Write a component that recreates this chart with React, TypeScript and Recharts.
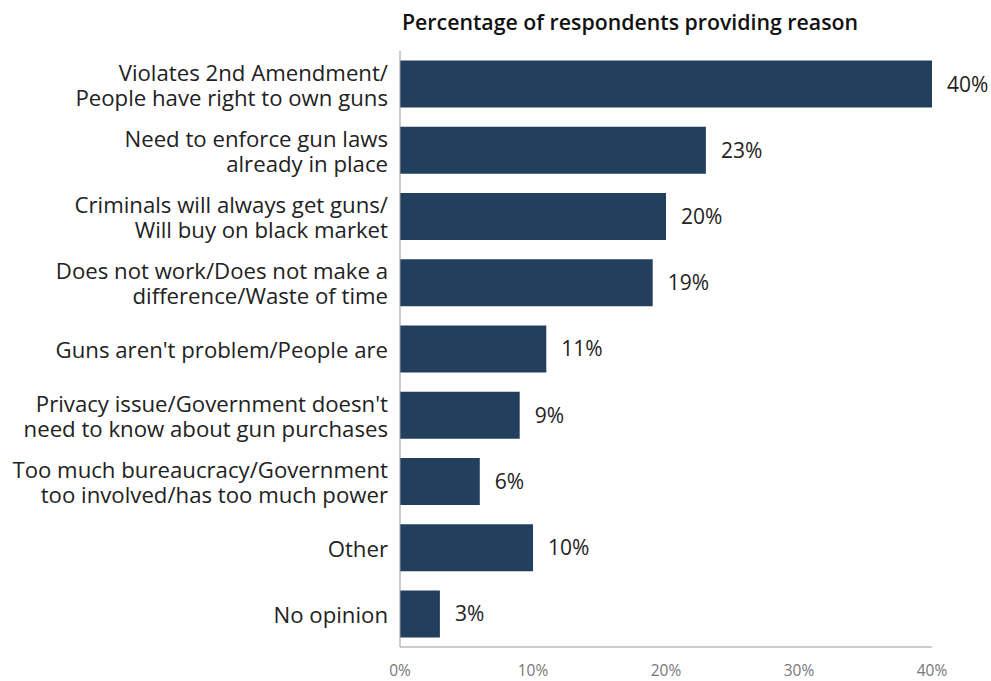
import { Bar, BarChart, LabelList, XAxis, YAxis } from "recharts"

// Reasons (line breaks as in the original layout)
const REASONS = [
  "Violates 2nd Amendment/\nPeople have right to own guns",
  "Need to enforce gun laws\nalready in place",
  "Criminals will always get guns/\nWill buy on black market",
  "Does not work/Does not make a\ndifference/Waste of time",
  "Guns aren't problem/People are",
  "Privacy issue/Government doesn't\nneed to know about gun purchases",
  "Too much bureaucracy/Government\ntoo involved/has too much power",
  "Other",
  "No opinion",
]
const SHARES = [40, 23, 20, 19, 11, 9, 6, 10, 3]
const X_TICKS = [0, 10, 20, 30, 40]

const TITLE = "Percentage of respondents providing reason"
const BAR_FILL = "#223f5e"
const FONT = "'Open Sans', 'Noto Sans', sans-serif"

const rows = REASONS.map((reason, i) => ({ reason, value: SHARES[i] }))

/** Category tick: right-aligned, split over several lines. */
function ReasonTick({ x, y, payload }: any) {
  const lines = String(payload.value).split("\n")
  const lineH = 25
  const top = y - ((lines.length - 1) * lineH) / 2
  return (
    <text
      x={x - 4}
      y={top}
      textAnchor="end"
      dominantBaseline="central"
      fill="#222"
      fontSize={22.2}
      fontFamily={FONT}
    >
      {lines.map((l, i) => (
        <tspan key={i} x={x - 4} y={top + i * lineH}>
          {l}
        </tspan>
      ))}
    </text>
  )
}

export default function App() {
  return (
    <div
      style={{
        position: "absolute",
        top: 0,
        left: 0,
        width: 991,
        height: 681,
        background: "#fff",
        fontFamily: FONT,
      }}
    >
      <div
        style={{
          position: "absolute",
          left: 402,
          top: 7,
          fontSize: 21.3,
          fontWeight: 600,
          color: "#111",
          whiteSpace: "nowrap",
        }}
      >
        {TITLE}
      </div>
      <BarChart
        width={991}
        height={681}
        data={rows}
        layout="vertical"
        margin={{ top: 51, right: 59, bottom: 0, left: 0 }}
        barCategoryGap="14.5%"
      >
        <XAxis
          type="number"
          domain={[0, 40]}
          ticks={X_TICKS}
          tickFormatter={(v) => `${v}%`}
          height={34}
          tickLine={false}
          tickSize={0}
          tickMargin={18}
          axisLine={{ stroke: "#9a9a9a" }}
          tick={{ fill: "#777", fontSize: 15.5, fontFamily: FONT }}
        />
        <YAxis
          type="category"
          dataKey="reason"
          width={400}
          tickLine={false}
          axisLine={{ stroke: "#9a9a9a" }}
          tick={<ReasonTick />}
          interval={0}
        />
        <Bar dataKey="value" fill={BAR_FILL} isAnimationActive={false}>
          <LabelList
            dataKey="value"
            position="right"
            offset={15}
            formatter={(v: any) => `${v}%`}
            fill="#222"
            fontSize={21}
            fontFamily={FONT}
          />
        </Bar>
      </BarChart>
    </div>
  )
}
